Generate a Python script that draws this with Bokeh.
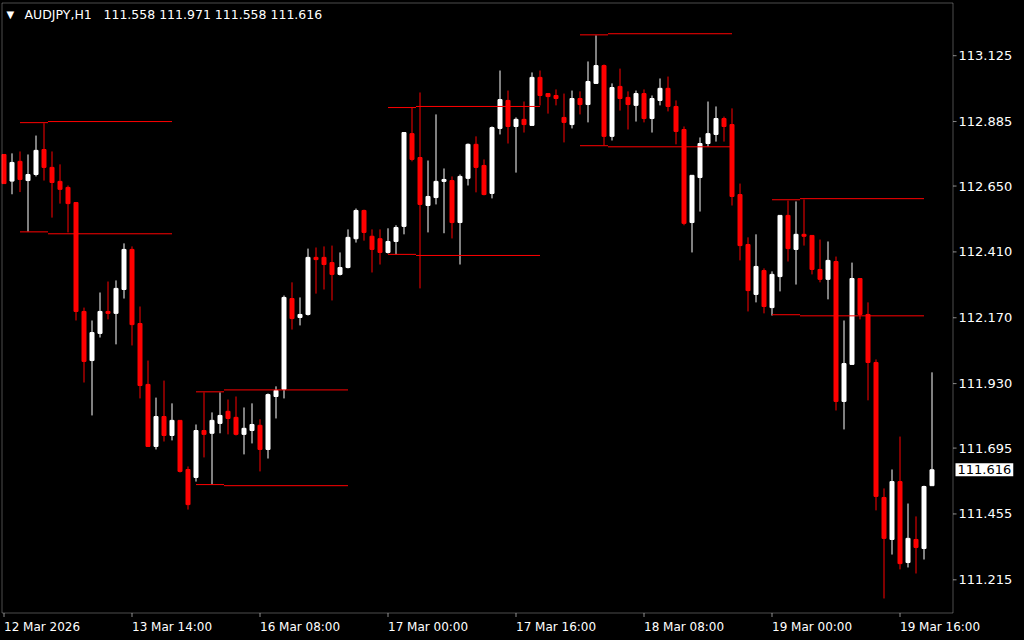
from bokeh.plotting import figure
from bokeh.models import ColumnDataSource, Label, BoxAnnotation
from bokeh.embed import file_html
from bokeh.resources import INLINE

# ---------------- data (AUDJPY, H1) ----------------
opens = [112.765, 112.668, 112.740, 112.670, 112.692, 112.783, 112.718, 112.667, 112.645, 112.590,
         112.193, 112.014, 112.113, 112.193, 112.186, 112.273, 112.419, 112.149, 111.927, 111.701,
         111.810, 111.741, 111.796, 111.617, 111.588, 111.759, 111.749, 111.785, 111.829, 111.807,
         111.745, 111.759, 111.778, 111.690, 111.883, 111.909, 112.240, 112.171, 112.182, 112.390,
         112.390, 112.371, 112.328, 112.353, 112.458, 112.561, 112.467, 112.458, 112.408, 112.448,
         112.503, 112.841, 112.754, 112.579, 112.608, 112.667, 112.670, 112.517, 112.678, 112.802,
         112.725, 112.623, 112.860, 112.962, 112.867, 112.893, 112.871, 113.046, 112.987, 112.980,
         112.900, 112.874, 112.969, 112.947, 113.024, 113.089, 112.831, 113.013, 112.973, 112.944,
         112.987, 112.896, 112.962, 113.006, 112.940, 112.856, 112.517, 112.681, 112.805, 112.838,
         112.896, 112.874, 112.619, 112.437, 112.255, 112.342, 112.207, 112.320, 112.543, 112.419,
         112.474, 112.470, 112.346, 112.310, 112.375, 111.865, 112.000, 112.313, 112.182, 112.007,
         111.515, 111.362, 111.573, 111.278, 111.362, 111.329, 111.558]
highs = [112.765, 112.769, 112.776, 112.765, 112.834, 112.879, 112.776, 112.729, 112.652, 112.590,
         112.207, 112.160, 112.262, 112.302, 112.306, 112.441, 112.430, 112.211, 112.014, 111.879,
         111.941, 111.858, 111.796, 111.628, 111.781, 111.898, 111.825, 111.898, 111.872, 111.883,
         111.843, 111.858, 111.800, 111.894, 111.920, 112.251, 112.299, 112.244, 112.422, 112.426,
         112.430, 112.433, 112.408, 112.492, 112.568, 112.564, 112.492, 112.492, 112.496, 112.507,
         112.845, 112.936, 112.991, 112.743, 112.911, 112.714, 112.685, 112.692, 112.805, 112.831,
         112.747, 112.867, 113.071, 112.998, 112.900, 112.958, 113.064, 113.071, 112.987, 113.002,
         112.987, 112.998, 112.995, 113.104, 113.199, 113.093, 113.024, 113.078, 112.995, 112.998,
         113.002, 112.980, 113.042, 113.049, 112.962, 112.867, 112.689, 112.827, 112.958, 112.940,
         112.903, 112.933, 112.659, 112.463, 112.474, 112.350, 112.339, 112.543, 112.597, 112.594,
         112.601, 112.470, 112.455, 112.448, 112.393, 112.160, 112.371, 112.313, 112.226, 112.018,
         111.548, 111.617, 111.737, 111.493, 111.446, 111.558, 111.971]
lows = [112.659, 112.620, 112.628, 112.484, 112.685, 112.670, 112.535, 112.586, 112.481, 112.160,
        111.934, 111.814, 112.098, 112.164, 112.073, 112.240, 112.069, 111.876, 111.701, 111.690,
        111.719, 111.723, 111.606, 111.471, 111.573, 111.661, 111.562, 111.749, 111.745, 111.741,
        111.672, 111.712, 111.610, 111.657, 111.803, 111.876, 112.127, 112.142, 112.178, 112.258,
        112.273, 112.233, 112.324, 112.350, 112.444, 112.451, 112.335, 112.364, 112.404, 112.401,
        112.474, 112.740, 112.277, 112.481, 112.583, 112.478, 112.459, 112.364, 112.652, 112.627,
        112.616, 112.605, 112.838, 112.805, 112.699, 112.845, 112.871, 112.944, 112.914, 112.944,
        112.809, 112.860, 112.911, 112.882, 113.024, 112.798, 112.816, 112.925, 112.856, 112.885,
        112.882, 112.845, 112.944, 112.922, 112.802, 112.507, 112.408, 112.557, 112.794, 112.812,
        112.812, 112.579, 112.379, 112.193, 112.226, 112.186, 112.178, 112.266, 112.375, 112.291,
        112.433, 112.328, 112.299, 112.237, 111.832, 111.763, 112.000, 112.164, 111.869, 111.468,
        111.147, 111.307, 111.253, 111.260, 111.238, 111.289, 111.558]
closes = [112.659, 112.736, 112.674, 112.692, 112.780, 112.718, 112.663, 112.638, 112.586, 112.193,
          112.011, 112.116, 112.193, 112.186, 112.277, 112.419, 112.145, 111.923, 111.701, 111.810,
          111.741, 111.796, 111.610, 111.489, 111.759, 111.745, 111.796, 111.814, 111.803, 111.745,
          111.767, 111.781, 111.690, 111.890, 111.905, 112.244, 112.167, 112.182, 112.390, 112.382,
          112.364, 112.328, 112.353, 112.463, 112.561, 112.481, 112.419, 112.408, 112.448, 112.499,
          112.845, 112.747, 112.583, 112.612, 112.667, 112.674, 112.517, 112.685, 112.802, 112.718,
          112.619, 112.863, 112.965, 112.867, 112.893, 112.874, 113.046, 112.980, 112.976, 112.969,
          112.882, 112.969, 112.947, 113.031, 113.089, 112.831, 113.009, 112.969, 112.947, 112.987,
          112.896, 112.969, 113.006, 112.940, 112.849, 112.514, 112.689, 112.805, 112.841, 112.896,
          112.867, 112.612, 112.433, 112.269, 112.357, 112.211, 112.328, 112.543, 112.422, 112.474,
          112.467, 112.346, 112.310, 112.379, 111.865, 112.003, 112.313, 112.182, 112.007, 111.519,
          111.366, 111.573, 111.274, 111.366, 111.333, 111.555, 111.616]

symbol = "AUDJPY,H1"
xtick_bars = [0, 16, 32, 48, 64, 80, 96, 112]
xtick_labels = ["12 Mar 2026", "13 Mar 14:00", "16 Mar 08:00", "17 Mar 00:00",
                "17 Mar 16:00", "18 Mar 08:00", "19 Mar 00:00", "19 Mar 16:00"]
ytick_vals = [113.125, 112.885, 112.650, 112.410, 112.170, 111.930, 111.695, 111.455, 111.215]

# session range levels drawn at each day start
day_start = [2, 24, 48, 72, 96]
range_hi_a = [112.881, 111.900, 112.936, 113.201, 112.600]
range_hi_b = [112.885, 111.907, 112.940, 113.205, 112.604]
range_lo_a = [112.483, 111.562, 112.401, 112.797, 112.181]
range_lo_b = [112.476, 111.558, 112.397, 112.793, 112.177]
seg_break = 3.5   # bars
seg_len = 19      # bars

# ---------------- styling / layout ----------------
BULL = "#FFFFFF"
BEAR = "#FF0000"
FG = "#FFFFFF"
FONT = "DejaVu Sans"
W, H = 1024, 640
# chart box (screen px, frame-relative; y measured from the bottom)
BOX_L, BOX_R = 1.5, 952.5
BOX_T, BOX_B = H - 2.5, H - 612.5

n = len(opens)
idx = list(range(n))
colors = [BULL if c > o else BEAR for o, c in zip(opens, closes)]
src = ColumnDataSource(dict(
    x=idx, high=highs, low=lows,
    top=[max(o, c) for o, c in zip(opens, closes)],
    bottom=[min(o, c) for o, c in zip(opens, closes)],
    color=colors))

p = figure(width=W, height=H, output_backend="svg", toolbar_location=None,
           x_range=(-0.4375, 127.5625), y_range=(110.993805, 113.326166),
           x_axis_type=None, y_axis_type=None, min_border=0,
           background_fill_color="#000000", border_fill_color="#000000",
           outline_line_color=None)

# candles
p.segment(x0="x", y0="low", x1="x", y1="high", source=src, line_color="color", line_width=1)
p.vbar(x="x", width=0.5, top="top", bottom="bottom", source=src,
       fill_color="color", line_color="color", line_width=1)

# range level lines
lv = ColumnDataSource(dict(
    xa0=day_start,
    xa1=[d + seg_break for d in day_start],
    xb1=[d + seg_len for d in day_start],
    hia=range_hi_a, hib=range_hi_b, loa=range_lo_a, lob=range_lo_b))
for ya, yb in (("hia", "hib"), ("loa", "lob")):
    p.segment(x0="xa0", x1="xa1", y0=ya, y1=ya, source=lv, line_color=BEAR, line_width=1)
    p.segment(x0="xa1", x1="xb1", y0=yb, y1=yb, source=lv, line_color=BEAR, line_width=1)

# chart border
p.add_layout(BoxAnnotation(left=BOX_L, right=BOX_R, top=BOX_T, bottom=BOX_B,
                           left_units="screen", right_units="screen",
                           top_units="screen", bottom_units="screen",
                           fill_alpha=0, line_color=FG, line_width=1, level="overlay"))

# price scale (right)
for v in ytick_vals:
    p.add_layout(BoxAnnotation(left=BOX_R, right=BOX_R + 3.5, top=v, bottom=v,
                               left_units="screen", right_units="screen",
                               fill_alpha=0, line_color=FG, line_width=1, level="overlay"))
    p.add_layout(Label(x=958, y=v, x_units="screen", y_units="data", text=f"{v:.3f}",
                       text_color=FG, text_font=FONT, text_font_size="13px",
                       text_align="left", text_baseline="middle"))

# time scale (bottom)
for b, lab in zip(xtick_bars, xtick_labels):
    p.add_layout(BoxAnnotation(left=b, right=b, top=BOX_B, bottom=BOX_B - 4,
                               top_units="screen", bottom_units="screen",
                               fill_alpha=0, line_color=FG, line_width=1, level="overlay"))
    p.add_layout(Label(x=b, y=14, x_units="data", y_units="screen", text=lab,
                       text_color=FG, text_font=FONT, text_font_size="12px",
                       text_align="left", text_baseline="middle"))

# title
title_y = H - 13.8
p.add_layout(Label(x=6, y=title_y, x_units="screen", y_units="screen", text="\u25BC",
                   text_color=FG, text_font=FONT, text_font_size="10px",
                   text_baseline="middle"))
p.add_layout(Label(x=24, y=title_y, x_units="screen", y_units="screen", text=symbol,
                   text_color=FG, text_font=FONT, text_font_size="12.5px",
                   text_baseline="middle"))
p.add_layout(Label(x=103, y=title_y, x_units="screen", y_units="screen",
                   text=f"{opens[-1]:.3f} {highs[-1]:.3f} {lows[-1]:.3f} {closes[-1]:.3f}",
                   text_color=FG, text_font=FONT, text_font_size="12.5px",
                   text_baseline="middle"))

# current price tag
p.add_layout(Label(x=955, y=closes[-1], x_units="screen", y_units="data",
                   text=f"{closes[-1]:.3f}", text_color="#000000", text_font=FONT,
                   text_font_size="13px", text_align="left", text_baseline="middle",
                   background_fill_color="#FFFFFF", padding=2))

html = file_html(p, INLINE, title=symbol)
html = html.replace("</head>", "<style>html,body{margin:0 !important;padding:0 !important;"
                    "background:#000000 !important;overflow:hidden;}</style></head>", 1)
open("out.html", "w").write(html)
